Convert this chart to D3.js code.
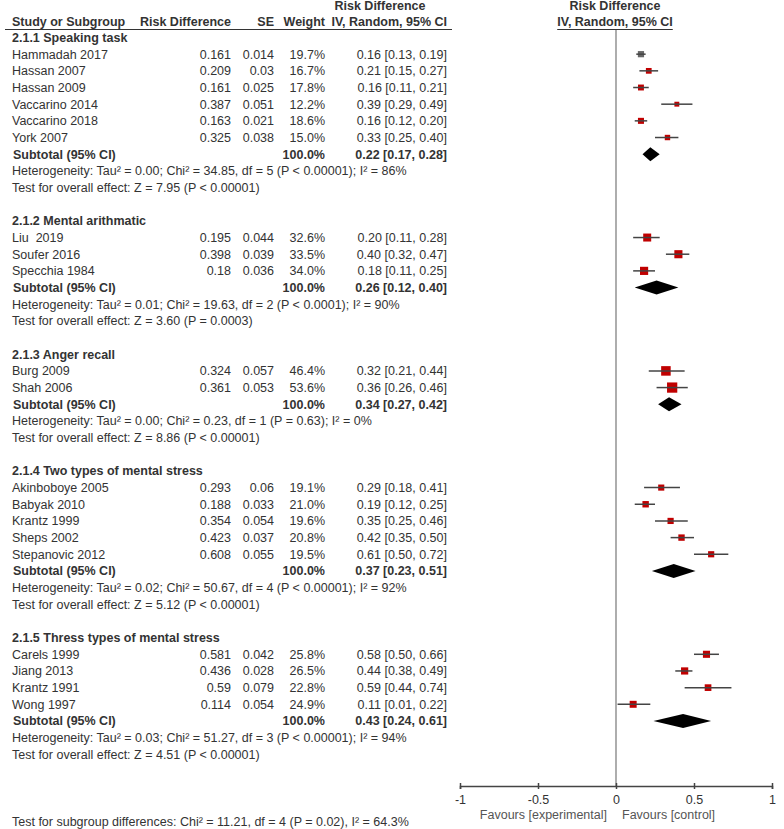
<!DOCTYPE html>
<html>
<head lang="en">
  <meta charset="UTF-8">
  <title>Forest plot - risk difference</title>
</head>
<style>
  body { margin: 0; background: #fff; }
  #chart text { font-family: "Liberation Sans", Arial, sans-serif; font-size: 12.5px; fill: #333; white-space: pre; }
  #chart .bold { font-weight: bold; }
</style>
<body>

<svg id="chart"></svg>

<script src="https://cdn.jsdelivr.net/npm/d3@7"></script>
<script>
  // Data
  var groupNames = ['2.1.1 Speaking task', '2.1.2 Mental arithmatic', '2.1.3 Anger recall',
                    '2.1.4 Two types of mental stress', '2.1.5 Thress types of mental stress'];

  var studyNames = ['Hammadah 2017', 'Hassan 2007', 'Hassan 2009', 'Vaccarino 2014', 'Vaccarino 2018', 'York 2007',
                    'Liu  2019', 'Soufer 2016', 'Specchia 1984',
                    'Burg 2009', 'Shah 2006',
                    'Akinboboye 2005', 'Babyak 2010', 'Krantz 1999', 'Sheps 2002', 'Stepanovic 2012',
                    'Carels 1999', 'Jiang 2013', 'Krantz 1991', 'Wong 1997'];
  var studyGroup = [0, 0, 0, 0, 0, 0, 1, 1, 1, 2, 2, 3, 3, 3, 3, 3, 4, 4, 4, 4];
  var riskDiff   = [0.161, 0.209, 0.161, 0.387, 0.163, 0.325, 0.195, 0.398, 0.18, 0.324, 0.361,
                    0.293, 0.188, 0.354, 0.423, 0.608, 0.581, 0.436, 0.59, 0.114];
  var seValues   = [0.014, 0.03, 0.025, 0.051, 0.021, 0.038, 0.044, 0.039, 0.036, 0.057, 0.053,
                    0.06, 0.033, 0.054, 0.037, 0.055, 0.042, 0.028, 0.079, 0.054];
  var weights    = [19.7, 16.7, 17.8, 12.2, 18.6, 15.0, 32.6, 33.5, 34.0, 46.4, 53.6,
                    19.1, 21.0, 19.6, 20.8, 19.5, 25.8, 26.5, 22.8, 24.9];
  var ciEst      = [0.16, 0.21, 0.16, 0.39, 0.16, 0.33, 0.20, 0.40, 0.18, 0.32, 0.36,
                    0.29, 0.19, 0.35, 0.42, 0.61, 0.58, 0.44, 0.59, 0.11];
  var ciLow      = [0.13, 0.15, 0.11, 0.29, 0.12, 0.25, 0.11, 0.32, 0.11, 0.21, 0.26,
                    0.18, 0.12, 0.25, 0.35, 0.50, 0.50, 0.38, 0.44, 0.01];
  var ciHigh     = [0.19, 0.27, 0.21, 0.49, 0.20, 0.40, 0.28, 0.47, 0.25, 0.44, 0.46,
                    0.41, 0.25, 0.46, 0.50, 0.72, 0.66, 0.49, 0.74, 0.22];

  var subEst  = [0.22, 0.26, 0.34, 0.37, 0.43];
  var subLow  = [0.17, 0.12, 0.27, 0.23, 0.24];
  var subHigh = [0.28, 0.40, 0.42, 0.51, 0.61];

  var heterogeneity = [
    'Heterogeneity: Tau\u00b2 = 0.00; Chi\u00b2 = 34.85, df = 5 (P < 0.00001); I\u00b2 = 86%',
    'Heterogeneity: Tau\u00b2 = 0.01; Chi\u00b2 = 19.63, df = 2 (P < 0.0001); I\u00b2 = 90%',
    'Heterogeneity: Tau\u00b2 = 0.00; Chi\u00b2 = 0.23, df = 1 (P = 0.63); I\u00b2 = 0%',
    'Heterogeneity: Tau\u00b2 = 0.02; Chi\u00b2 = 50.67, df = 4 (P < 0.00001); I\u00b2 = 92%',
    'Heterogeneity: Tau\u00b2 = 0.03; Chi\u00b2 = 51.27, df = 3 (P < 0.00001); I\u00b2 = 94%'
  ];
  var overallEffect = [
    'Test for overall effect: Z = 7.95 (P < 0.00001)',
    'Test for overall effect: Z = 3.60 (P = 0.0003)',
    'Test for overall effect: Z = 8.86 (P < 0.00001)',
    'Test for overall effect: Z = 5.12 (P < 0.00001)',
    'Test for overall effect: Z = 4.51 (P < 0.00001)'
  ];
  var subgroupTest = 'Test for subgroup differences: Chi\u00b2 = 11.21, df = 4 (P = 0.02), I\u00b2 = 64.3%';
  var axisTicks = [-1, -0.5, 0, 0.5, 1];

  // Layout
  var width = 784, height = 829;
  var rowTop = 37.5, rowH = 16.67;
  var colName = 12, colRD = 231, colSE = 274, colW = 325, colCI = 447;
  var axisY = 786;
  var f2 = d3.format('.2f');

  var chart = d3.select('#chart').attr('width', width).attr('height', height);

  var x = d3.scaleLinear().domain([-1, 1]).range([460, 772]);
  var boxSize = d3.scaleSqrt().domain([0, 100]).range([0, 14]);

  // Build the row list
  var rows = [];
  groupNames.forEach(function (g, gi) {
    rows.push({ type: 'group', label: g });
    studyNames.forEach(function (s, i) {
      if (studyGroup[i] === gi) rows.push({ type: 'study', i: i });
    });
    rows.push({ type: 'subtotal', g: gi });
    rows.push({ type: 'text', label: heterogeneity[gi] });
    rows.push({ type: 'text', label: overallEffect[gi] });
    rows.push({ type: 'blank' });
  });

  function rowY(r) { return rowTop + r * rowH; }

  // Header
  chart.append('text').attr('class', 'bold').attr('x', 380).attr('y', 10)
    .attr('text-anchor', 'middle').text('Risk Difference');
  chart.append('text').attr('class', 'bold').attr('x', 615).attr('y', 10)
    .attr('text-anchor', 'middle').text('Risk Difference');
  var headY = 26;
  chart.append('text').attr('class', 'bold').attr('x', colName).attr('y', headY).text('Study or Subgroup');
  chart.append('text').attr('class', 'bold').attr('x', colRD).attr('y', headY).attr('text-anchor', 'end').text('Risk Difference');
  chart.append('text').attr('class', 'bold').attr('x', colSE).attr('y', headY).attr('text-anchor', 'end').text('SE');
  chart.append('text').attr('class', 'bold').attr('x', colW).attr('y', headY).attr('text-anchor', 'end').text('Weight');
  chart.append('text').attr('class', 'bold').attr('x', colCI).attr('y', headY).attr('text-anchor', 'end').text('IV, Random, 95% CI');
  var rh = chart.append('text').attr('class', 'bold').attr('x', 615).attr('y', headY)
    .attr('text-anchor', 'middle').text('IV, Random, 95% CI');
  var bb = rh.node().getBBox();
  chart.append('line').attr('x1', 5).attr('x2', 452).attr('y1', 29.5).attr('y2', 29.5)
    .attr('stroke', '#333').attr('stroke-width', 1);
  chart.append('line').attr('x1', bb.x).attr('x2', bb.x + bb.width).attr('y1', 29.5).attr('y2', 29.5)
    .attr('stroke', '#333').attr('stroke-width', 1);

  // Zero line
  chart.append('line').attr('x1', x(0)).attr('x2', x(0)).attr('y1', 30).attr('y2', axisY)
    .attr('stroke', '#777').attr('stroke-width', 1.2);

  // Table rows
  rows.forEach(function (row, r) {
    var y = rowY(r) + 4.5;
    if (row.type === 'group') {
      chart.append('text').attr('class', 'bold').attr('x', colName).attr('y', y).text(row.label);
    } else if (row.type === 'text') {
      chart.append('text').attr('x', colName).attr('y', y).text(row.label);
    } else if (row.type === 'study') {
      var i = row.i;
      chart.append('text').attr('x', colName).attr('y', y).text(studyNames[i]);
      chart.append('text').attr('x', colRD).attr('y', y).attr('text-anchor', 'end').text(String(riskDiff[i]));
      chart.append('text').attr('x', colSE).attr('y', y).attr('text-anchor', 'end').text(String(seValues[i]));
      chart.append('text').attr('x', colW).attr('y', y).attr('text-anchor', 'end').text(weights[i].toFixed(1) + '%');
      chart.append('text').attr('x', colCI).attr('y', y).attr('text-anchor', 'end')
        .text(f2(ciEst[i]) + ' [' + f2(ciLow[i]) + ', ' + f2(ciHigh[i]) + ']');
    } else if (row.type === 'subtotal') {
      var g = row.g;
      chart.append('text').attr('class', 'bold').attr('x', colName + 1).attr('y', y).text('Subtotal (95% CI)');
      chart.append('text').attr('class', 'bold').attr('x', colW).attr('y', y).attr('text-anchor', 'end').text('100.0%');
      chart.append('text').attr('class', 'bold').attr('x', colCI).attr('y', y).attr('text-anchor', 'end')
        .text(f2(subEst[g]) + ' [' + f2(subLow[g]) + ', ' + f2(subHigh[g]) + ']');
    }
  });

  // Study markers
  var studyRows = rows.map(function (row, r) { return { row: row, r: r }; })
    .filter(function (d) { return d.row.type === 'study'; });

  var marks = chart.append('g').selectAll('g')
    .data(studyRows)
    .enter()
      .append('g')
      .attr('transform', function (d) { return 'translate(0,' + rowY(d.r) + ')'; });

  marks.append('rect')
    .attr('x', function (d) { return x(ciEst[d.row.i]) - boxSize(weights[d.row.i]) / 2; })
    .attr('y', function (d) { return -boxSize(weights[d.row.i]) / 2; })
    .attr('width', function (d) { return boxSize(weights[d.row.i]); })
    .attr('height', function (d) { return boxSize(weights[d.row.i]); })
    .attr('fill', function (d) { return d.row.i === 0 ? '#666' : '#c00000'; });

  marks.append('line')
    .attr('x1', function (d) { return x(ciLow[d.row.i]); })
    .attr('x2', function (d) { return x(ciHigh[d.row.i]); })
    .attr('y1', 0).attr('y2', 0)
    .attr('stroke', '#444').attr('stroke-width', 1.5);

  // Subtotal diamonds
  var subRows = rows.map(function (row, r) { return { row: row, r: r }; })
    .filter(function (d) { return d.row.type === 'subtotal'; });

  chart.append('g').selectAll('path')
    .data(subRows)
    .enter()
      .append('path')
      .attr('d', function (d) {
        var g = d.row.g, y = rowY(d.r), h = 7;
        return 'M' + x(subLow[g]) + ',' + y + 'L' + x(subEst[g]) + ',' + (y - h) +
               'L' + x(subHigh[g]) + ',' + y + 'L' + x(subEst[g]) + ',' + (y + h) + 'Z';
      })
      .attr('fill', '#000');

  // Axis
  var axis = chart.append('g').attr('transform', 'translate(0,' + axisY + ')')
    .call(d3.axisBottom(x).tickValues(axisTicks).tickSize(3).tickPadding(6)
      .tickFormat(function (d) { return String(d); }));
  axis.select('.domain').attr('stroke', '#444').attr('stroke-width', 1.5);
  axis.selectAll('.tick line').attr('stroke', '#444').attr('stroke-width', 1.5).attr('y1', -3);
  axis.selectAll('.tick text').attr('fill', '#333')
    .style('font-family', '"Liberation Sans", Arial, sans-serif').style('font-size', '12.5px');

  chart.append('text').attr('x', x(0) - 9).attr('y', 819).attr('text-anchor', 'end')
    .style('fill', '#555').text('Favours [experimental]');
  chart.append('text').attr('x', x(0) + 6).attr('y', 819)
    .style('fill', '#555').text('Favours [control]');

  chart.append('text').attr('x', colName).attr('y', 826).text(subgroupTest);
</script>
</body>
</html>
